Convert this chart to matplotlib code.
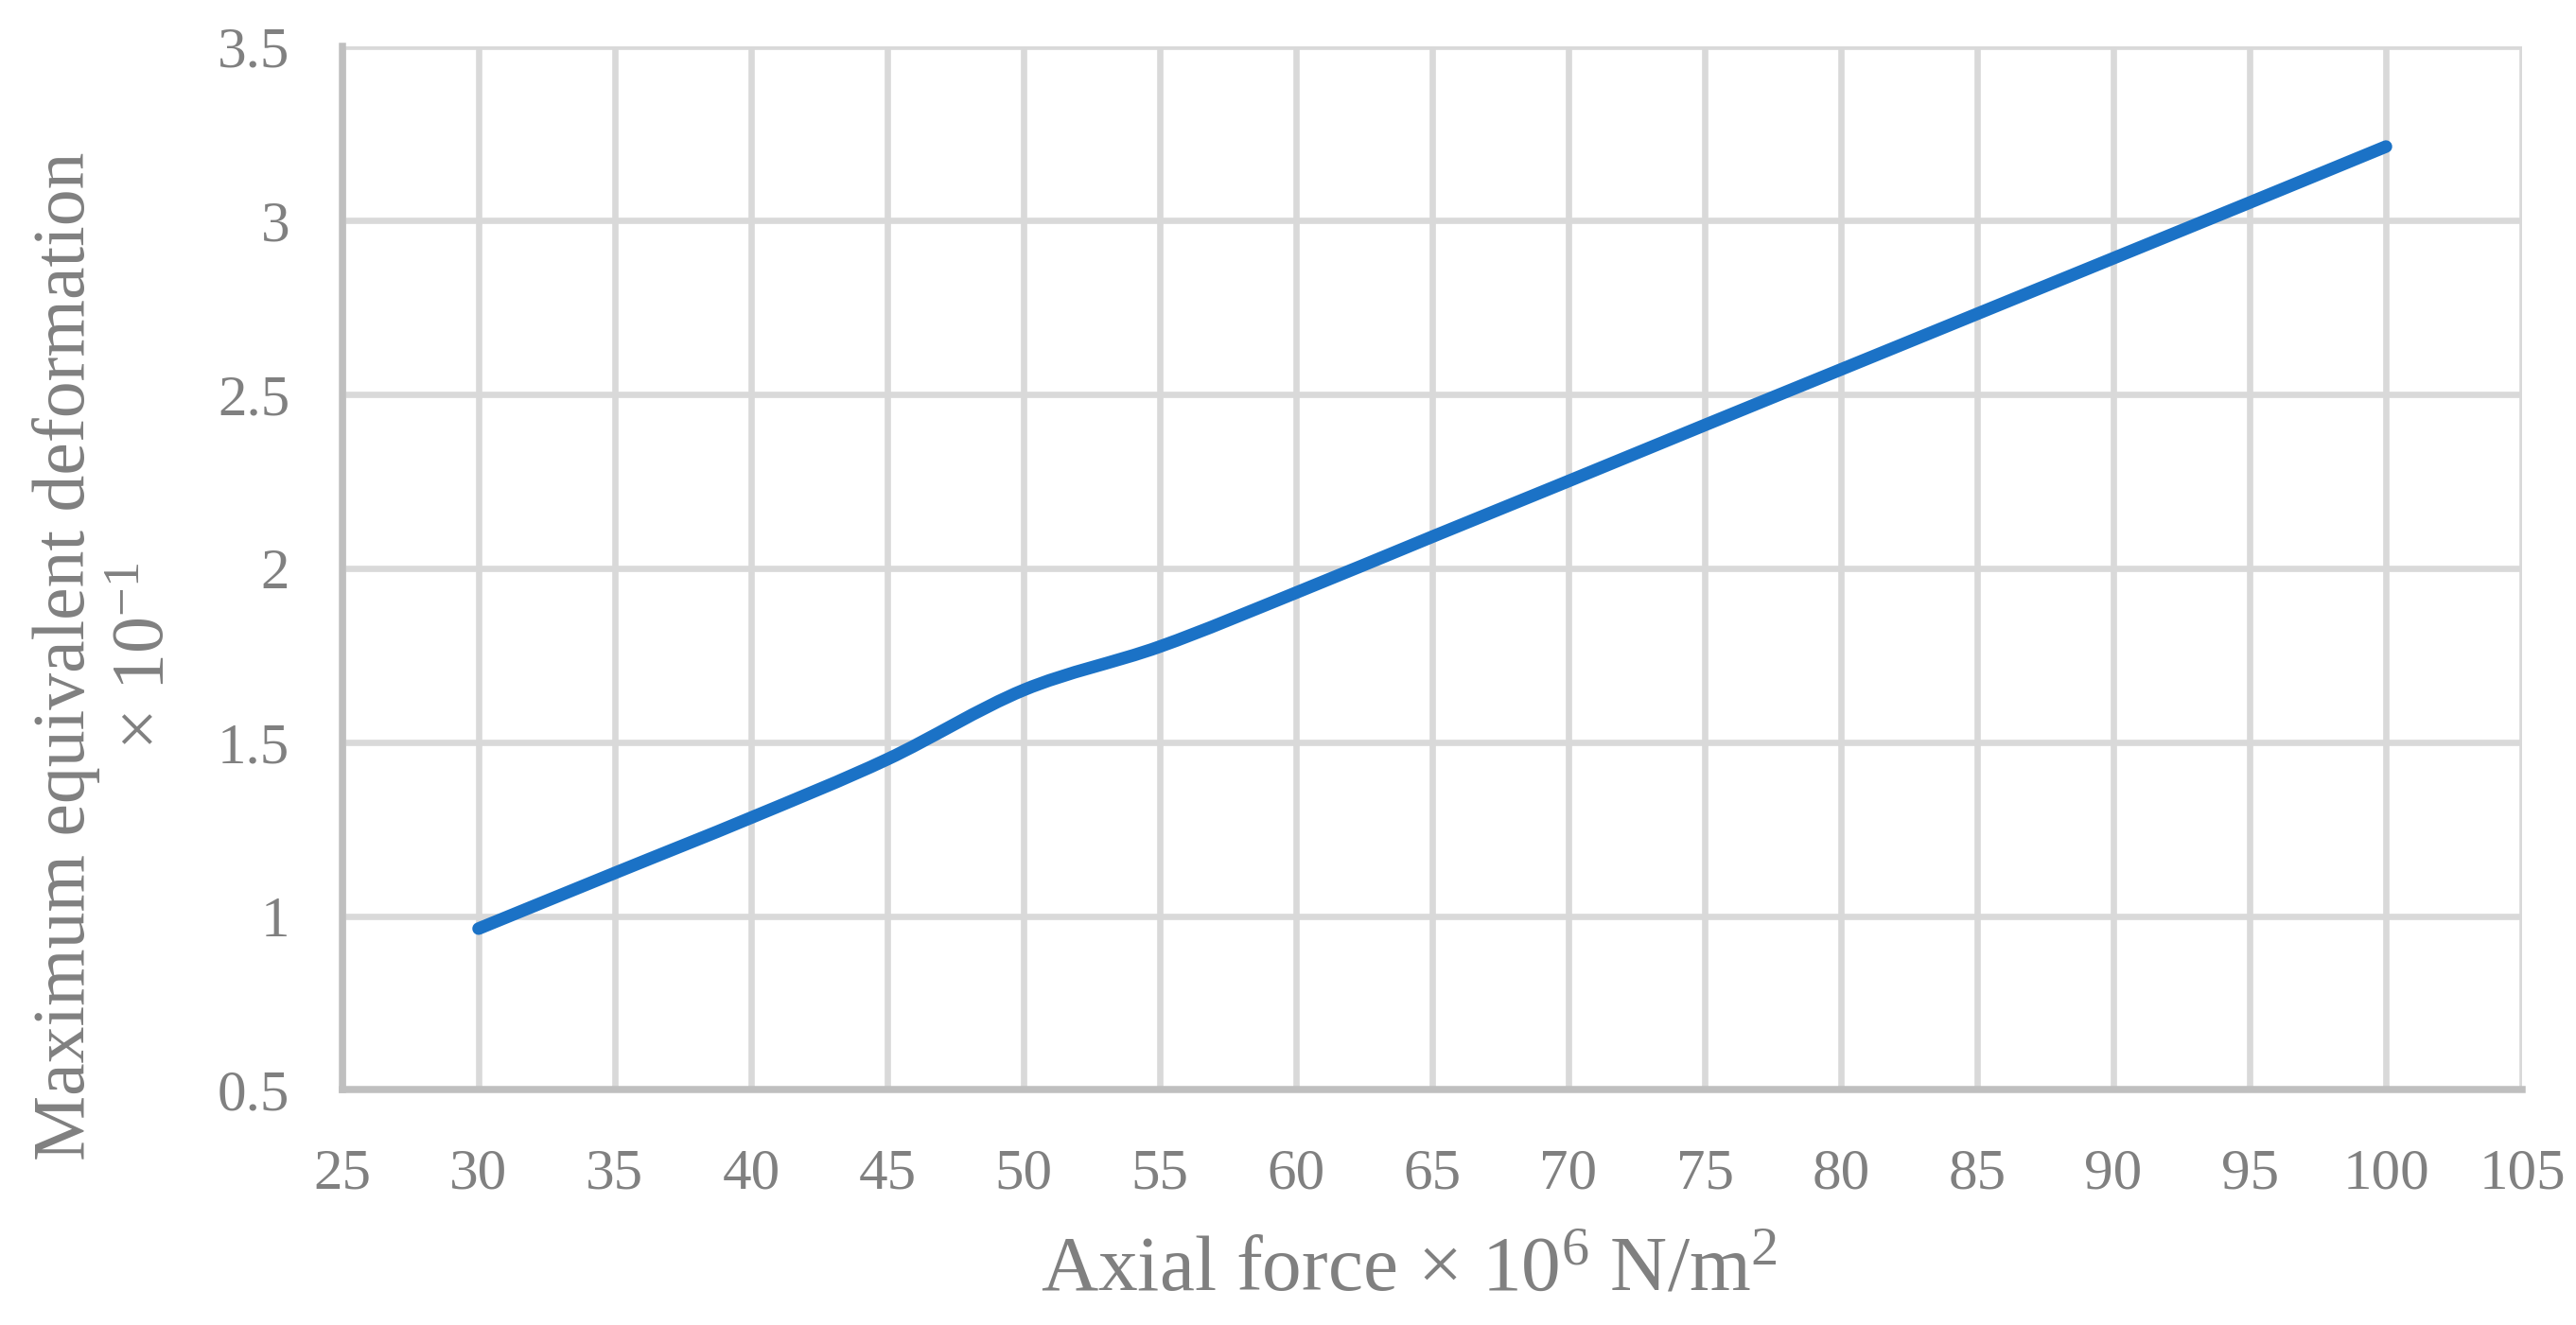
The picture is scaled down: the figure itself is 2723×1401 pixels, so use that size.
import matplotlib
matplotlib.use("Agg")
import matplotlib.pyplot as plt
from matplotlib.path import Path
from matplotlib.patches import PathPatch

# data
axial_force = [30, 35, 40, 45, 50, 55, 60, 65, 70, 75, 80, 85, 90, 95, 100]
max_deformation = [0.964, 1.124, 1.283, 1.451, 1.650, 1.775, 1.930, 2.091,
                   2.251, 2.412, 2.572, 2.732, 2.892, 3.052, 3.213]
x_ticks = [25, 30, 35, 40, 45, 50, 55, 60, 65, 70, 75, 80, 85, 90, 95, 100, 105]
y_ticks = [0.5, 1, 1.5, 2, 2.5, 3, 3.5]
y_tick_labels = ["0.5", "1", "1.5", "2", "2.5", "3", "3.5"]

TEXT = "#808080"
GRID = "#d9d9d9"
SPINE = "#bfbfbf"
LINE = "#1b72c6"

plt.rcParams["font.family"] = ["Liberation Serif", "DejaVu Serif"]
plt.rcParams["mathtext.fontset"] = "custom"
plt.rcParams["mathtext.rm"] = "Liberation Serif"
plt.rcParams["mathtext.default"] = "regular"

fig = plt.figure(figsize=(13.615, 7.005), dpi=200)
ax = fig.add_axes([0.1329, 0.1774, 0.8462, 0.7873])

# smoothed line like the spreadsheet "smoothed line" option (cubic bezier through the points)
verts = [(axial_force[0], max_deformation[0])]
codes = [Path.MOVETO]
n = len(axial_force)
for i in range(n - 1):
    x0, y0 = axial_force[max(i - 1, 0)], max_deformation[max(i - 1, 0)]
    x1, y1 = axial_force[i], max_deformation[i]
    x2, y2 = axial_force[i + 1], max_deformation[i + 1]
    x3, y3 = axial_force[min(i + 2, n - 1)], max_deformation[min(i + 2, n - 1)]
    c1 = (x1 + (x2 - x0) / 6, y1 + (y2 - y0) / 6)
    c2 = (x2 - (x3 - x1) / 6, y2 - (y3 - y1) / 6)
    verts += [c1, c2, (x2, y2)]
    codes += [Path.CURVE4, Path.CURVE4, Path.CURVE4]
curve = PathPatch(Path(verts, codes), facecolor="none", edgecolor=LINE,
                  linewidth=4.8, capstyle="round", zorder=3)
ax.add_patch(curve)

ax.set_xlim(25, 105)
ax.set_ylim(0.5, 3.5)
ax.set_xticks(x_ticks)
ax.set_xticklabels([str(t) for t in x_ticks])
ax.set_yticks(y_ticks)
ax.set_yticklabels(y_tick_labels)
ax.grid(True, color=GRID, linewidth=2.4, zorder=0)
ax.set_axisbelow(True)
ax.tick_params(axis="both", length=0, labelsize=22, colors=TEXT)
ax.tick_params(axis="x", pad=22)
ax.tick_params(axis="y", pad=20)

for s in ["top", "right"]:
    ax.spines[s].set_visible(False)
for s in ["left", "bottom"]:
    ax.spines[s].set_color(SPINE)
    ax.spines[s].set_linewidth(2.7)

fig.text(0.547, 0.040, r"Axial force × $10^{6}$ N/m$^{2}$", fontsize=30,
         color=TEXT, ha="center", va="center")
fig.text(0.041, 0.505, "Maximum equivalent deformation\n" + r"× $10^{-1}$",
         fontsize=28, color=TEXT, ha="center", va="center", rotation=90,
         multialignment="center", linespacing=1.2)

fig.savefig("out.png", dpi=200)
